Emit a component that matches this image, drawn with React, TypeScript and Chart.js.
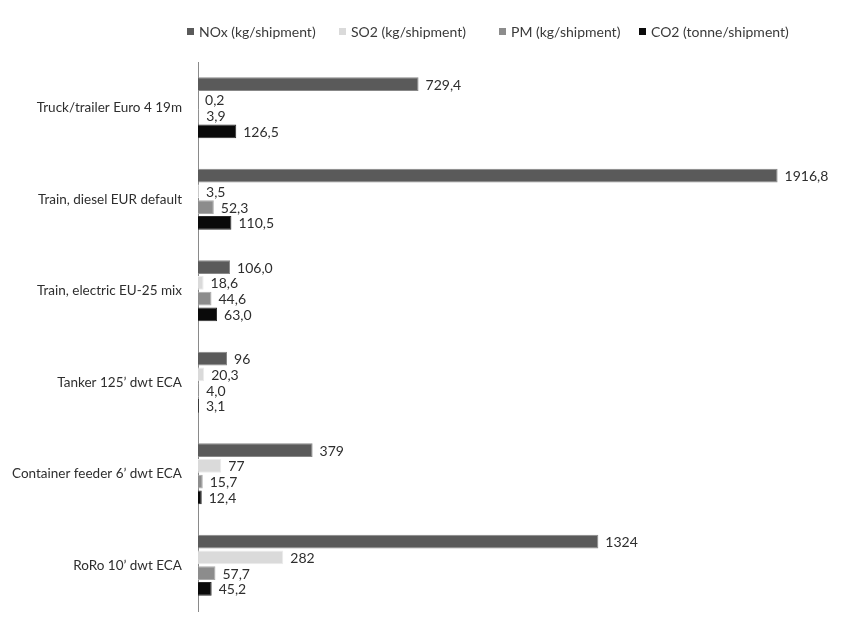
import React, { useEffect, useRef } from "react";
import { Chart, registerables } from "chart.js";

Chart.register(...registerables);

const categories = [
  "Truck/trailer Euro 4 19m",
  "Train, diesel EUR default",
  "Train, electric EU-25 mix",
  "Tanker 125’ dwt ECA",
  "Container feeder 6’ dwt ECA",
  "RoRo 10’ dwt ECA",
];

const seriesNames = [
  "NOx (kg/shipment)",
  "SO2 (kg/shipment)",
  "PM (kg/shipment)",
  "CO2 (tonne/shipment)",
];

const noxValues = [729.4, 1916.8, 106.0, 96, 379, 1324];
const so2Values = [0.2, 3.5, 18.6, 20.3, 77, 282];
const pmValues = [3.9, 52.3, 44.6, 4.0, 15.7, 57.7];
const co2Values = [126.5, 110.5, 63.0, 3.1, 12.4, 45.2];

const noxLabels = ["729,4", "1916,8", "106,0", "96", "379", "1324"];
const so2Labels = ["0,2", "3,5", "18,6", "20,3", "77", "282"];
const pmLabels = ["3,9", "52,3", "44,6", "4,0", "15,7", "57,7"];
const co2Labels = ["126,5", "110,5", "63,0", "3,1", "12,4", "45,2"];

const colors = ["#5a5a5a", "#dadada", "#8c8c8c", "#0a0a0a"];
const borderColors = ["#888888", "#ebebeb", "#aaaaaa", "#2a2a2a"];

const legendItemX = [187, 339, 499, 639];

const FONT = "Lato, 'Open Sans', sans-serif";
const FONT_SIZE = 14;

const valueLabelPlugin = {
  id: "valueLabels",
  afterDatasetsDraw(chart: any) {
    const ctx = chart.ctx;
    const allLabels = [noxLabels, so2Labels, pmLabels, co2Labels];
    ctx.save();
    ctx.font = `${FONT_SIZE}px ${FONT}`;
    ctx.fillStyle = "#2e2e2e";
    ctx.textAlign = "left";
    ctx.textBaseline = "middle";
    chart.data.datasets.forEach((ds: any, di: number) => {
      const meta = chart.getDatasetMeta(di);
      meta.data.forEach((el: any, i: number) => {
        ctx.fillText(allLabels[di][i], el.x + 7, el.y + 1);
      });
    });
    ctx.restore();
  },
};

const customLegendPlugin = {
  id: "customLegend",
  afterDraw(chart: any) {
    const ctx = chart.ctx;
    ctx.save();
    ctx.font = `${FONT_SIZE}px ${FONT}`;
    ctx.textBaseline = "middle";
    ctx.textAlign = "left";
    const y = 32;
    seriesNames.forEach((name, i) => {
      const x = legendItemX[i];
      ctx.fillStyle = colors[i];
      ctx.fillRect(x, y - 4, 7, 7);
      ctx.fillStyle = "#3a3a3a";
      ctx.fillText(name, x + 12, y);
    });
    ctx.restore();
  },
};

export default function App() {
  const canvasRef = useRef<HTMLCanvasElement | null>(null);

  useEffect(() => {
    document.body.style.margin = "0";
    if (!canvasRef.current) return;
    const values = [noxValues, so2Values, pmValues, co2Values];
    const chart = new Chart(canvasRef.current, {
      type: "bar",
      data: {
        labels: categories,
        datasets: seriesNames.map((name, i) => ({
          label: name,
          data: values[i],
          backgroundColor: colors[i],
          borderColor: borderColors[i],
          borderWidth: 1,
          borderSkipped: "left",
          categoryPercentage: 0.69,
          barPercentage: 0.88,
        })),
      },
      options: {
        indexAxis: "y",
        animation: false,
        responsive: false,
        maintainAspectRatio: false,
        layout: { padding: { top: 62, bottom: 12, left: 0, right: 12 } },
        plugins: {
          legend: { display: false },
          tooltip: { enabled: false },
        },
        scales: {
          x: {
            display: false,
            min: 0,
            max: 2100,
          },
          y: {
            afterFit(scale: any) {
              scale.width = 198;
              scale.paddingTop = 0;
              scale.paddingBottom = 0;
            },
            grid: { display: false, drawTicks: false },
            border: { display: true, color: "#8a8a8a", width: 1 },
            ticks: {
              padding: 16,
              color: "#2e2e2e",
              font: { family: FONT, size: FONT_SIZE - 0.5 },
            },
          },
        },
      },
      plugins: [valueLabelPlugin, customLegendPlugin],
    });
    return () => chart.destroy();
  }, []);

  return (
    <div style={{ position: "relative", width: 845, height: 623, background: "#ffffff" }}>
      <canvas ref={canvasRef} width={845} height={623} style={{ display: "block" }} />
    </div>
  );
}
